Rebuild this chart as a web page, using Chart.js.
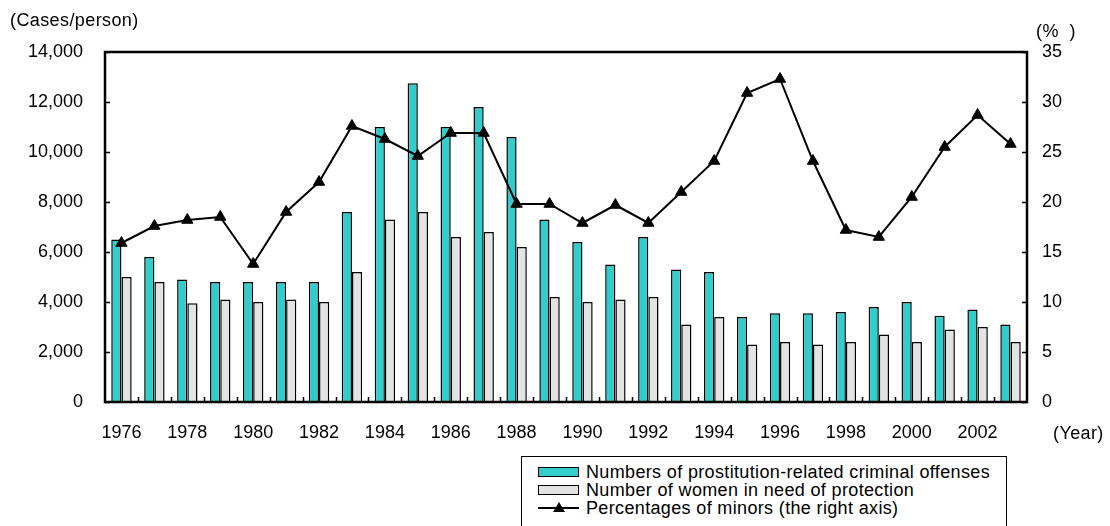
<!DOCTYPE html>
<html>
<head>
<meta charset="utf-8">
<script src="https://cdn.jsdelivr.net/npm/chart.js@4/dist/chart.umd.min.js"></script>
<style>
  html, body { margin: 0; padding: 0; background: #fff; overflow: hidden; }
  #wrap { position: relative; width: 1110px; height: 526px; overflow: hidden; }
  #c { position: absolute; left: 0; top: 0; }
  #legend { position: absolute; left: 521px; top: 456px; width: 486px; height: 90px;
            border: 1.5px solid #000; box-sizing: border-box; background: #fff;
            font-family: "Liberation Sans", Arial, sans-serif; font-size: 18px; color: #000;
            letter-spacing: 0.35px; }
  .row { position: absolute; left: 16px; height: 18px; display: flex; align-items: center; white-space: nowrap; }
  .sw { width: 41px; height: 10px; box-sizing: border-box; border: 1.5px solid #000; margin-right: 7px; }
  .ln { width: 41px; height: 12px; margin-right: 7px; position: relative; }
  .ln:before { content: ""; position: absolute; left: 0; right: 0; top: 5px; height: 2px; background: #000; }
  .ln:after { content: ""; position: absolute; left: 15px; top: 0; width: 0; height: 0;
              border-left: 6px solid transparent; border-right: 6px solid transparent; border-bottom: 10px solid #000; }
</style>
</head>
<body>
<div id="wrap">
  <canvas id="c" width="1110" height="526"></canvas>
  <div id="legend">
    <div class="row" style="top:6px"><div class="sw" id="sw0"></div><span id="lt0"></span></div>
    <div class="row" style="top:24px"><div class="sw" id="sw1"></div><span id="lt1"></span></div>
    <div class="row" style="top:42px"><div class="ln"></div><span id="lt2"></span></div>
  </div>
</div>
<script>
const years = [1976,1977,1978,1979,1980,1981,1982,1983,1984,1985,1986,1987,1988,1989,
               1990,1991,1992,1993,1994,1995,1996,1997,1998,1999,2000,2001,2002,2003];
const offenses = [6500,5800,4900,4800,4800,4800,4800,7600,11000,12750,11000,11800,10600,7300,
                  6400,5500,6600,5300,5200,3400,3550,3550,3600,3800,4000,3450,3700,3100];
const women = [5000,4800,3950,4100,4000,4100,4000,5200,7300,7600,6600,6800,6200,4200,
               4000,4100,4200,3100,3400,2300,2400,2300,2400,2700,2400,2900,3000,2400];
const minorsPct = [15.9,17.6,18.2,18.5,13.8,19.0,22.0,27.6,26.3,24.6,26.9,26.9,19.8,19.8,
                   17.9,19.7,17.9,21.0,24.1,30.9,32.3,24.1,17.2,16.5,20.5,25.5,28.7,25.8];
const seriesNames = ["Numbers of prostitution-related criminal offenses",
                     "Number of women in need of protection",
                     "Percentages of minors (the right axis)"];
const leftTitle = "(Cases/person)";
const rightTitle = "(%\u00a0 )";
const xTitle = "(Year)";
const colors = ["#33CCCC", "#E3E3E3", "#000000"];

const FONT = '"Liberation Sans", Arial, sans-serif';
Chart.defaults.color = '#000';
Chart.defaults.font.family = FONT;
Chart.defaults.font.size = 18;

document.getElementById('sw0').style.background = colors[0];
document.getElementById('sw1').style.background = colors[1];
seriesNames.forEach((n, i) => document.getElementById('lt' + i).textContent = n);

const framePlugin = {
  id: 'frame',
  afterDatasetsDraw(chart) {
    const ctx = chart.ctx, a = chart.chartArea;
    const x = chart.scales.x, y = chart.scales.y, y1 = chart.scales.y1;
    ctx.save();
    ctx.strokeStyle = '#000';
    ctx.lineWidth = 1.5;
    ctx.beginPath();
    y.ticks.forEach(t => { const p = Math.round(y.getPixelForValue(t.value)) + 0.5; ctx.moveTo(a.left, p); ctx.lineTo(a.left + 5, p); });
    y1.ticks.forEach(t => { const p = Math.round(y1.getPixelForValue(t.value)) + 0.5; ctx.moveTo(a.right, p); ctx.lineTo(a.right - 5, p); });
    const n = years.length;
    for (let i = 1; i < n; i++) {
      const p = Math.round((x.getPixelForValue(i - 1) + x.getPixelForValue(i)) / 2) + 0.5;
      ctx.moveTo(p, a.bottom); ctx.lineTo(p, a.bottom - 5);
    }
    ctx.stroke();
    ctx.lineWidth = 2.5;
    ctx.strokeRect(a.left, a.top, a.right - a.left, a.bottom - a.top);
    ctx.fillStyle = '#000';
    ctx.font = '18px ' + FONT;
    ctx.textBaseline = 'middle';
    ctx.textAlign = 'left';
    try { ctx.letterSpacing = '0.4px'; } catch (e) {}
    ctx.fillText(leftTitle, 10, 21);
    ctx.fillText(rightTitle, 1036, 32);
    ctx.fillText(xTitle, 1053, 434);
    ctx.restore();
  }
};

new Chart(document.getElementById('c'), {
  data: {
    labels: years.map(String),
    datasets: [
      { type: 'line', label: seriesNames[2], data: minorsPct, yAxisID: 'y1', order: 0,
        borderColor: colors[2], borderWidth: 2, pointStyle: 'triangle', pointRadius: 6.5,
        pointBackgroundColor: '#000', pointBorderColor: '#000', pointBorderWidth: 1, tension: 0 },
      { type: 'bar', label: seriesNames[0], data: offenses, yAxisID: 'y', order: 1,
        backgroundColor: colors[0], borderColor: '#000', borderWidth: 1.5,
        categoryPercentage: 0.62, barPercentage: 1.0 },
      { type: 'bar', label: seriesNames[1], data: women, yAxisID: 'y', order: 1,
        backgroundColor: colors[1], borderColor: '#000', borderWidth: 1.5,
        categoryPercentage: 0.62, barPercentage: 1.0 }
    ]
  },
  options: {
    responsive: false,
    animation: false,
    devicePixelRatio: 1,
    layout: { padding: { top: 52, left: 0, right: 0, bottom: 0 } },
    plugins: { legend: { display: false }, tooltip: { enabled: false } },
    scales: {
      x: {
        offset: true,
        grid: { display: false, drawTicks: false },
        border: { display: false },
        ticks: { autoSkip: false, maxRotation: 0, padding: 20,
                 callback: (v, i) => (i % 2 === 0 ? years[i] : '') },
        afterFit: s => { s.height = 124; }
      },
      y: {
        position: 'left', min: 0, max: 14000,
        grid: { display: false, drawTicks: false },
        border: { display: false },
        ticks: { stepSize: 2000, padding: 22, callback: v => v.toLocaleString('en-US') },
        afterFit: s => { s.width = 105; }
      },
      y1: {
        position: 'right', min: 0, max: 35,
        grid: { display: false, drawTicks: false },
        border: { display: false },
        ticks: { stepSize: 5, padding: 15 },
        afterFit: s => { s.width = 83; }
      }
    }
  },
  plugins: [framePlugin]
});
</script>
</body>
</html>
